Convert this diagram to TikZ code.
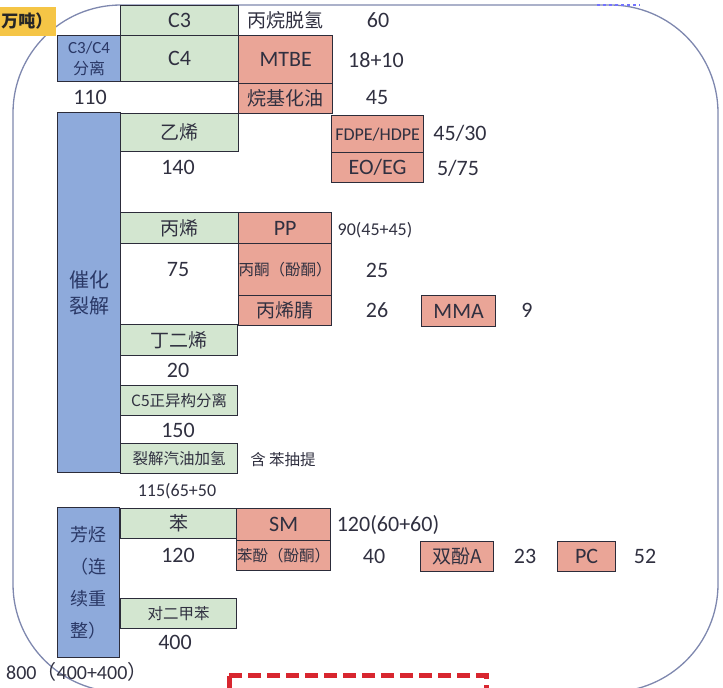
\documentclass[tikz,border=0pt]{standalone}
\usepackage{fontspec}
\setmainfont{Carlito}
\newfontfamily\cjk{Noto Sans CJK SC}
\definecolor{bord}{HTML}{2C2C3A}
\definecolor{gfill}{HTML}{D3E6D0}
\definecolor{rfill}{HTML}{EAA597}
\definecolor{bfill}{HTML}{8EAADB}
\definecolor{txt}{HTML}{303040}
\definecolor{btxt}{HTML}{2A3866}
\definecolor{outer}{HTML}{7E87AE}
\definecolor{hl}{HTML}{F5C546}
\definecolor{dred}{HTML}{D8262F}
\tikzset{
  box/.style={draw=bord, line width=1.3pt, anchor=north west, inner sep=0pt, text=txt},
  gbox/.style={box, fill=gfill},
  rbox/.style={box, fill=rfill},
  bbox/.style={box, fill=bfill, text=btxt, align=center},
  lat/.style={font=\fontsize{22}{24}\selectfont},
  latsm/.style={font=\fontsize{18}{20}\selectfont},
  zh/.style={font=\cjk\fontsize{19}{22}\selectfont},
  zhsm/.style={font=\cjk\fontsize{15.5}{18}\selectfont},
  lbl/.style={text=txt, inner sep=0pt},
}
\begin{document}
\begin{tikzpicture}[x=1pt,y=-1pt]
\useasboundingbox (0,0) rectangle (723,688);
\begin{scope}
\clip (0,0) rectangle (723,688);
% outer rounded frame
\draw[outer, line width=1.3pt, rounded corners=108pt] (13,5) rectangle (718,692);
\draw[blue!55, dashed, line width=1.4pt] (597,5) -- (640,5);
% highlight unit
\fill[hl] (0,7) rectangle (56,36);
\node[lbl, font=\cjk\bfseries\fontsize{17}{20}\selectfont, text=black!85] (unit) at (27,21) {万吨）};

% C3/C4 block
\node[gbox, minimum width=118pt, minimum height=30pt, lat] (c3) at (120,5) {C3};
\node[gbox, minimum width=118pt, minimum height=46pt, lat] (c4) at (120,35) {C4};
\node[bbox, minimum width=63pt, minimum height=46pt, font=\fontsize{17}{21}\selectfont] (sep) at (57,35)
  {C3/C4\\{\cjk\fontsize{16}{21}\selectfont 分离}};
\node[rbox, minimum width=94pt, minimum height=48pt, lat] (mtbe) at (238,35) {MTBE};
\node[rbox, minimum width=94pt, minimum height=30pt, zh] (alky) at (238,83) {烷基化油};
\node[lbl, zh] (pdh) at (285,20) {丙烷脱氢};
\node[lbl, lat] (n60) at (378,20) {60};
\node[lbl, lat] (n1810) at (376,60) {18+10};
\node[lbl, lat] (n45) at (377,98) {45};
\node[lbl, lat] (n110) at (90,97) {110};

% catalytic cracking
\node[bbox, minimum width=63pt, minimum height=360pt, font=\cjk\fontsize{20}{26}\selectfont] (cc) at (57,112) {催化\\裂解};
\node[gbox, minimum width=118pt, minimum height=38pt, zh] (eth) at (120,113) {乙烯};
\node[rbox, minimum width=92pt, minimum height=37pt, latsm] (pe) at (331,115) {FDPE/HDPE};
\node[rbox, minimum width=92pt, minimum height=30pt, lat] (eo) at (331,152) {EO/EG};
\node[lbl, lat] (n140) at (178,167) {140};
\node[lbl, lat] (n4530) at (460,133) {45/30};
\node[lbl, lat] (n575) at (458,168) {5/75};

\node[gbox, minimum width=118pt, minimum height=31pt, zh] (pro) at (120,212) {丙烯};
\node[rbox, minimum width=93pt, minimum height=31pt, lat] (pp) at (238,212) {PP};
\node[rbox, minimum width=93pt, minimum height=52pt, zhsm] (ace) at (238,243) {丙酮（酚酮）};
\node[rbox, minimum width=93pt, minimum height=30pt, zh] (acn) at (238,295) {丙烯腈};
\node[rbox, minimum width=74pt, minimum height=31pt, lat] (mma) at (421,295) {MMA};
\node[lbl, latsm] (n90) at (375,230) {90(45+45)};
\node[lbl, lat] (n75) at (178,270) {75};
\node[lbl, lat] (n25) at (377,270) {25};
\node[lbl, lat] (n26) at (377,310) {26};
\node[lbl, lat] (n9) at (527,310) {9};

\node[gbox, minimum width=117pt, minimum height=31pt, zh] (bd) at (120,324) {丁二烯};
\node[lbl, lat] (n20) at (178,370) {20};
\node[gbox, minimum width=117pt, minimum height=30pt, font=\cjk\fontsize{15.5}{18}\selectfont] (c5) at (120,385) {C5正异构分离};
\node[lbl, lat] (n150) at (178,430) {150};
\node[gbox, minimum width=117pt, minimum height=30pt, zhsm] (pyg) at (120,443) {裂解汽油加氢};
\node[lbl, zhsm] (bzx) at (283,460) {含 苯抽提};
\node[lbl, latsm] (n115) at (177,491) {115(65+50};

% aromatics
\node[bbox, minimum width=62pt, minimum height=150pt, font=\cjk\fontsize{18}{32}\selectfont] (aro) at (57,507) {芳烃\\（连\\续重\\整）};
\node[gbox, minimum width=117pt, minimum height=30pt, zh] (bz) at (120,508) {苯};
\node[rbox, minimum width=94pt, minimum height=32pt, lat] (sm) at (236,508) {SM};
\node[rbox, minimum width=94pt, minimum height=30pt, zhsm] (phe) at (236,540) {苯酚（酚酮）};
\node[rbox, minimum width=73pt, minimum height=30pt, font=\cjk\fontsize{19}{22}\selectfont] (bpa) at (420,541) {双酚A};
\node[rbox, minimum width=58pt, minimum height=30pt, lat] (pc) at (557,541) {PC};
\node[lbl, lat] (n120) at (178,555) {120};
\node[lbl, lat] (n12060) at (388,525) {120(60+60)};
\node[lbl, lat] (n40) at (374,556) {40};
\node[lbl, lat] (n23) at (525,556) {23};
\node[lbl, lat] (n52) at (645,556) {52};
\node[gbox, minimum width=116pt, minimum height=30pt, zhsm] (px) at (120,598) {对二甲苯};
\node[lbl, lat] (n400) at (175,642) {400};
\node[lbl, anchor=west, font=\fontsize{20}{22}\selectfont] (n800) at (6,672) {800{\cjk（}400+400{\cjk）}};

% red dashed frame
\draw[dred, line width=5pt, dash pattern=on 13pt off 6pt] (229,675.5) rectangle (486,710);
\end{scope}
\end{tikzpicture}
\end{document}
